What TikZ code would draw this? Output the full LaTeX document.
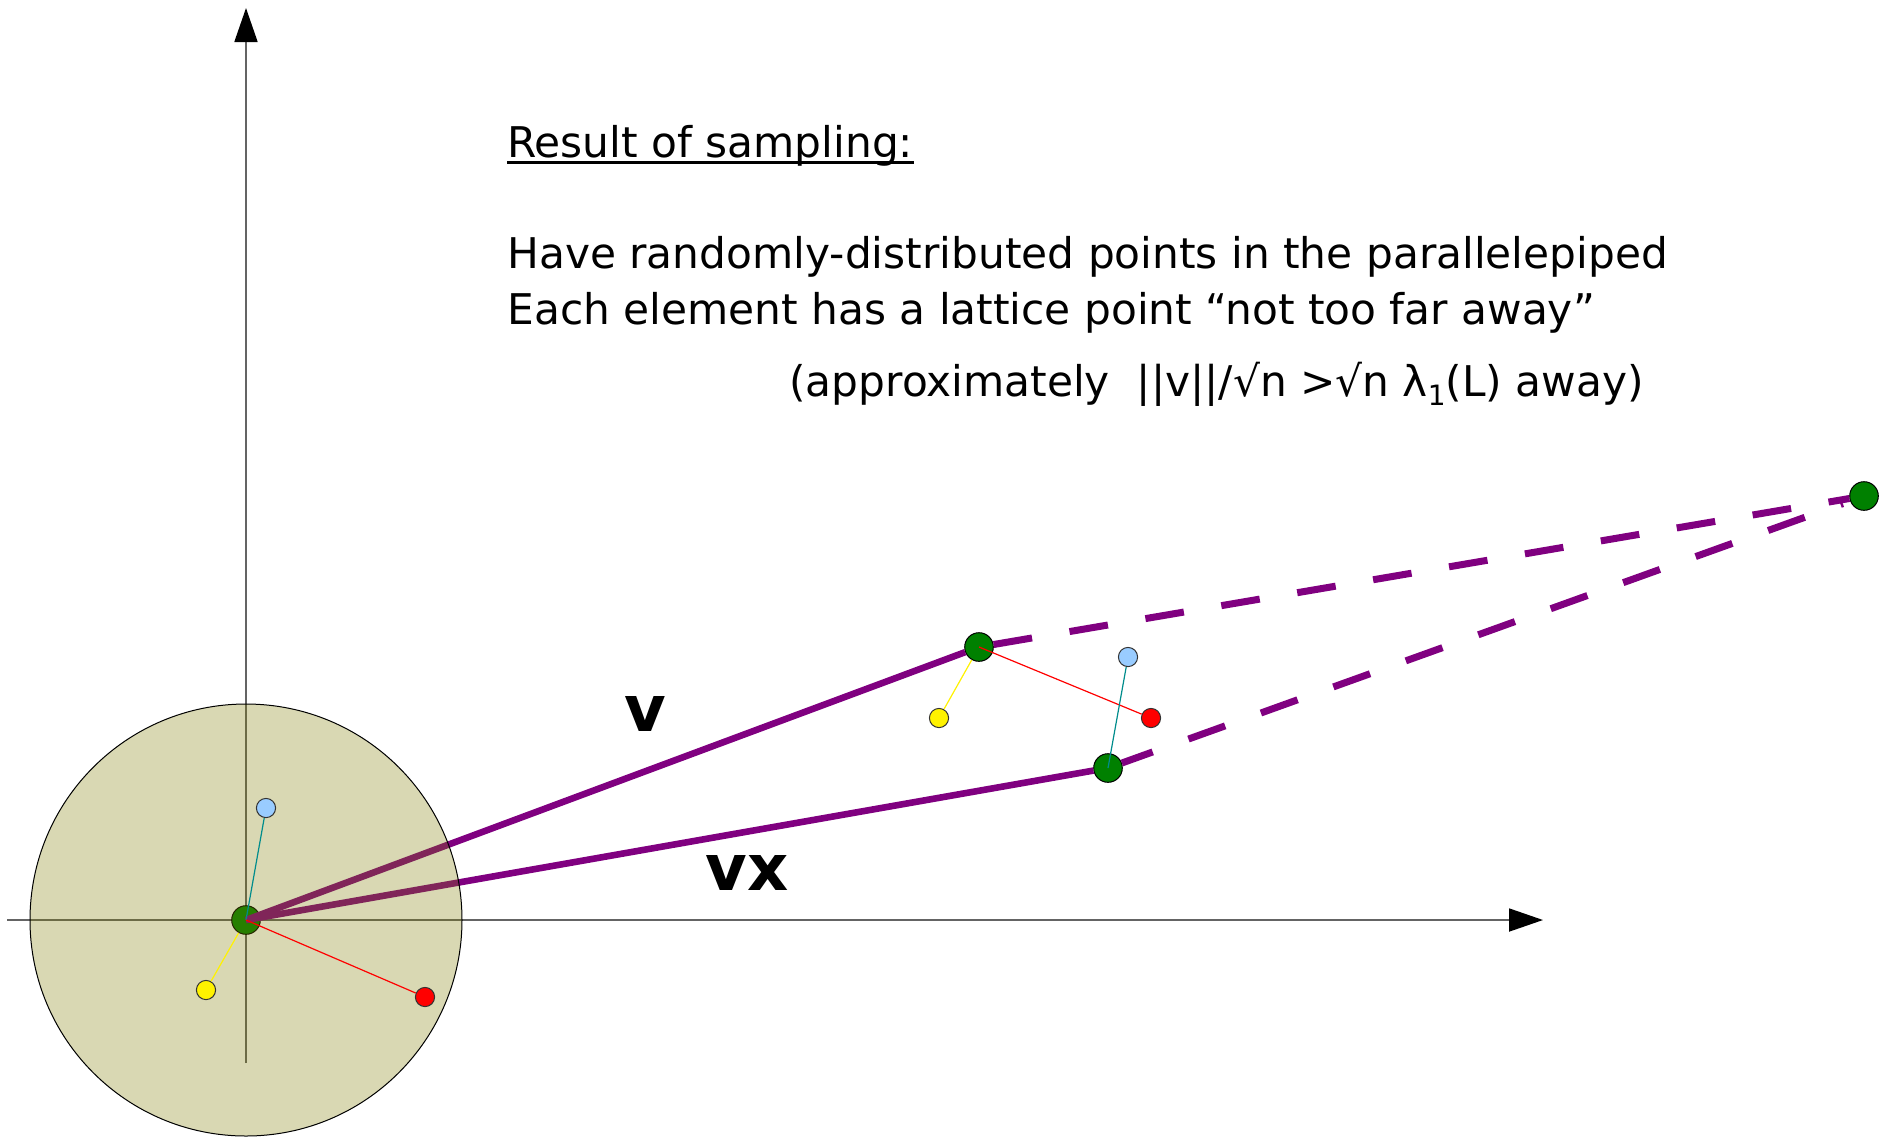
\documentclass[tikz,border=0pt]{standalone}
\usepackage{fontspec}
\setmainfont{DejaVu Sans}
\usetikzlibrary{arrows.meta,calc}
\definecolor{vecpurple}{RGB}{128,0,128}
\definecolor{latgreen}{RGB}{0,128,0}
\definecolor{smpblue}{RGB}{153,204,255}
\definecolor{ballfill}{RGB}{128,125,2}
\definecolor{axisgray}{RGB}{100,100,100}
\definecolor{errteal}{RGB}{0,140,140}

\begin{document}
\begin{tikzpicture}[x=0.5pt,y=-0.5pt,
  lattice/.style={circle, draw=black, fill=latgreen, minimum size=14.3pt, inner sep=0pt, line width=0.5pt},
  sample/.style={circle, draw=black!80, minimum size=9.6pt, inner sep=0pt, line width=0.5pt},
  vec/.style={vecpurple, line width=3.3pt},
  dashvec/.style={vec, line width=3.5pt, dash pattern=on 19.5pt off 19pt},
  axis/.style={axisgray, line width=0.9pt, -{Triangle[length=17pt,width=11.5pt,color=black]}},
  txt/.style={anchor=base west, inner sep=0pt, font=\fontsize{21.15pt}{25pt}\selectfont},
  lbl/.style={inner sep=0pt, font=\bfseries\fontsize{32pt}{32pt}\selectfont}]
  \useasboundingbox (0,0) rectangle (1884,1136);
  \coordinate (ybot) at (246,1063);
  \coordinate (ytop) at (246,8);
  \coordinate (xleft) at (7,920);
  \coordinate (xright) at (1543,920);
  \draw[axis] (ybot) -- (ytop);
  \draw[axis] (xleft) -- (xright);
  \node[lattice] (o) at (246,920) {};
  \node[lattice] (v) at (979,647) {};
  \node[lattice] (vx) at (1108,768) {};
  \node[lattice] (far) at (1864,496) {};
  \draw[vec] (o.center) -- (v);
  \draw[vec] (o.center) -- (vx);
  \draw[dashvec] (v) -- (far);
  \draw[dashvec, dash phase=3.15pt, shorten >=3.85pt] (vx) -- (far);
  \draw[black, line width=0.5pt, fill=ballfill, fill opacity=0.3] (o.center) circle[radius=108pt];
  \node[sample, fill=smpblue] (ob) at (266,808) {};
  \node[sample, fill=yellow] (oy) at (206,990) {};
  \node[sample, fill=red] (or) at (425,997) {};
  \node[sample, fill=yellow] (vy) at (939,718) {};
  \node[sample, fill=red] (vr) at (1151,718) {};
  \node[sample, fill=smpblue] (xb) at (1128,657) {};
  \draw[errteal, line width=0.6pt] (ob) -- (o.center);
  \draw[yellow, line width=0.6pt] (oy) -- (o);
  \draw[red, line width=0.6pt] (o.center) -- (or);
  \draw[yellow, line width=0.6pt] (vy) -- (v);
  \draw[red, line width=0.6pt] (v.center) -- (vr);
  \draw[errteal, line width=0.6pt] (xb) -- (vx.center);
  \node[lbl] (vlab) at (645,714) {v};
  \node[lbl] (vxlab) at (747,873) {vx};
  \node[txt] (title) at (507,157) {Result of sampling:};
  \draw[line width=1.5pt] ([yshift=-2.5pt]title.base west) -- ([yshift=-2.5pt]title.base east);
  \node[txt] (line1) at (507,268) {Have randomly-distributed points in the parallelepiped};
  \node[txt] (line2) at (507,324) {Each element has a lattice point “not too far away”};
  \node[txt] (line3) at (789,396) {(approximately\ \ ||v||/√n >√n λ\raisebox{-4.5pt}{\fontsize{14pt}{14pt}\selectfont 1}(L) away)};
\end{tikzpicture}
\end{document}
